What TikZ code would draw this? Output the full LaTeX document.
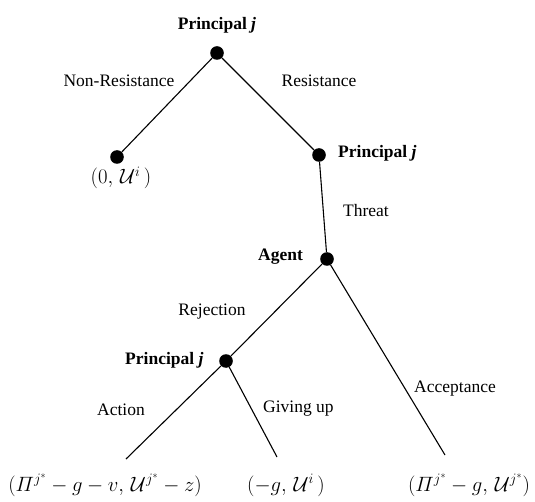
\documentclass[tikz,border=0pt]{standalone}
\usepackage{amsmath}
\usepackage{fontspec}
\setmainfont{Liberation Serif}
\begin{document}
\begin{tikzpicture}[x=1pt,y=-1pt,
  dotnode/.style={circle,fill=black,inner sep=0pt,minimum size=13.6pt},
  edge/.style={line width=1.1pt},
  lbl/.style={anchor=base,inner sep=0pt,font=\fontsize{17.5}{21}\selectfont},
  blbl/.style={lbl,font=\fontsize{17.5}{21}\selectfont\bfseries},
  leaf/.style={anchor=base,inner sep=0pt,font=\fontsize{19.5}{23}\selectfont}]
\useasboundingbox (0,0) rectangle (535,502);
% decision nodes
\node[dotnode] (r) at (217,53) {};
\node[dotnode] (a) at (117,157) {};
\node[dotnode] (p2) at (319,155) {};
\node[dotnode] (ag) at (327,259) {};
\node[dotnode] (p3) at (226,361) {};
\coordinate (e1) at (126,459);
\coordinate (e2) at (277,457);
\coordinate (e3) at (445,455);
% edges
\draw[edge] (r) -- (a);
\draw[edge] (r) -- (p2);
\draw[edge] (p2) -- (ag);
\draw[edge] (ag) -- (p3);
\draw[edge] (ag) -- (e3);
\draw[edge] (p3) -- (e1);
\draw[edge] (p3) -- (e2);
% player labels
\node[blbl] (lr) at (217,30) {Principal \textit{j}};
\node[blbl,anchor=base west] (lp2) at (338,158) {Principal \textit{j}};
\node[blbl,anchor=base west] (lag) at (258,261) {Agent};
\node[blbl,anchor=base west] (lp3) at (125,364) {Principal \textit{j}};
% action labels
\node[lbl] (lnr) at (119,87) {Non-Resistance};
\node[lbl] (lres) at (319,87) {Resistance};
\node[lbl] (lthr) at (366,217) {Threat};
\node[lbl] (lrej) at (212,316) {Rejection};
\node[lbl] (lact) at (121,415) {Action};
\node[lbl,anchor=base west] (lgiv) at (263,412) {Giving up};
\node[lbl,anchor=base west] (lacc) at (414,392) {Acceptance};
% payoffs
\node[leaf] (pa) at (121,184) {$(0,\,\mathcal{U}^{i}\,)$};
\node[leaf] (p1) at (105,491) {$(\varPi^{j^*}-g-v,\,\mathcal{U}^{j^*}-z)$};
\node[leaf] (pg) at (286,491) {$(-g,\,\mathcal{U}^{i}\,)$};
\node[leaf] (pc) at (469,491) {$(\varPi^{j^*}-g,\,\mathcal{U}^{j^*})$};
\end{tikzpicture}
\end{document}
